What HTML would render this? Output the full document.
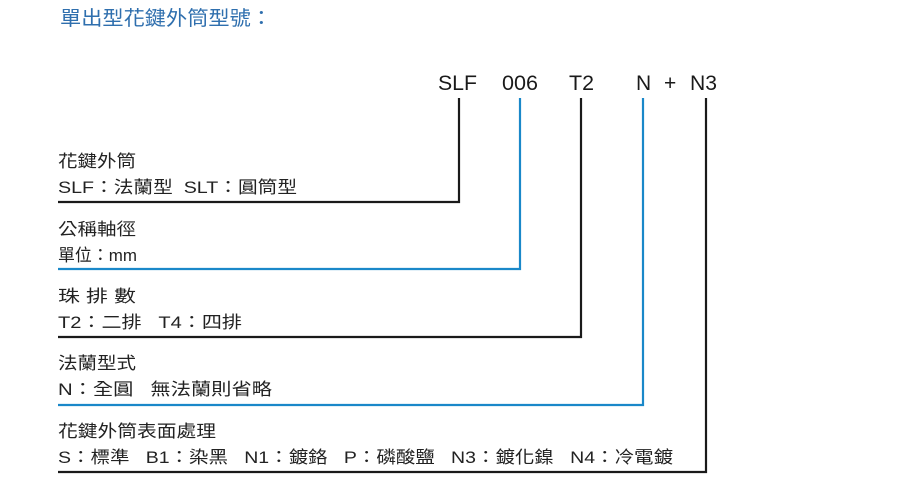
<!DOCTYPE html>
<html><head><meta charset="utf-8"><style>
html,body{margin:0;padding:0;background:#fff;width:900px;height:491px;overflow:hidden}
svg text{font-family:"Liberation Sans","Noto Sans CJK TC",sans-serif;white-space:pre}
.t{font-size:17px;fill:#222}
</style></head><body>
<svg width="900" height="491" viewBox="0 0 900 491" xmlns="http://www.w3.org/2000/svg" xml:space="preserve">
<text x="60" y="25" font-size="20" fill="#2f6fae" textLength="212" lengthAdjust="spacingAndGlyphs">單出型花鍵外筒型號：</text>
<g font-size="21" fill="#1a1a1a">
<text x="438" y="90" textLength="39" lengthAdjust="spacingAndGlyphs">SLF</text>
<text x="502" y="90" textLength="36" lengthAdjust="spacingAndGlyphs">006</text>
<text x="569" y="90" textLength="25" lengthAdjust="spacingAndGlyphs">T2</text>
<text x="636" y="90">N</text>
<text x="664" y="90">+</text>
<text x="690" y="90" textLength="27" lengthAdjust="spacingAndGlyphs">N3</text>
</g>
<g fill="none" stroke-width="2.2">
<polyline points="58,202 459,202 459,98" stroke="#1a1a1a"/>
<polyline points="58,269 520,269 520,98" stroke="#1a88c9"/>
<polyline points="58,337 581,337 581,98" stroke="#1a1a1a"/>
<polyline points="58,405 643,405 643,98" stroke="#1a88c9"/>
<polyline points="58,472 706,472 706,98" stroke="#1a1a1a"/>
</g>
<text class="t" x="58" y="167" textLength="78" lengthAdjust="spacingAndGlyphs">花鍵外筒</text>
<text class="t" x="58" y="193" textLength="239" lengthAdjust="spacingAndGlyphs">SLF：法蘭型  SLT：圓筒型</text>
<text class="t" x="58" y="235" textLength="78" lengthAdjust="spacingAndGlyphs">公稱軸徑</text>
<text class="t" x="58" y="261" textLength="79" lengthAdjust="spacingAndGlyphs">單位：mm</text>
<text class="t" x="58" y="302" textLength="78" lengthAdjust="spacingAndGlyphs">珠 排 數</text>
<text class="t" x="58" y="328" textLength="184" lengthAdjust="spacingAndGlyphs">T2：二排   T4：四排</text>
<text class="t" x="58" y="369" textLength="78" lengthAdjust="spacingAndGlyphs">法蘭型式</text>
<text class="t" x="58" y="395" textLength="214" lengthAdjust="spacingAndGlyphs">N：全圓   無法蘭則省略</text>
<text class="t" x="58" y="437" textLength="158" lengthAdjust="spacingAndGlyphs">花鍵外筒表面處理</text>
<text class="t" x="58" y="463" textLength="615" lengthAdjust="spacingAndGlyphs">S：標準   B1：染黑   N1：鍍鉻   P：磷酸鹽   N3：鍍化鎳   N4：冷電鍍</text>
</svg>
</body></html>
